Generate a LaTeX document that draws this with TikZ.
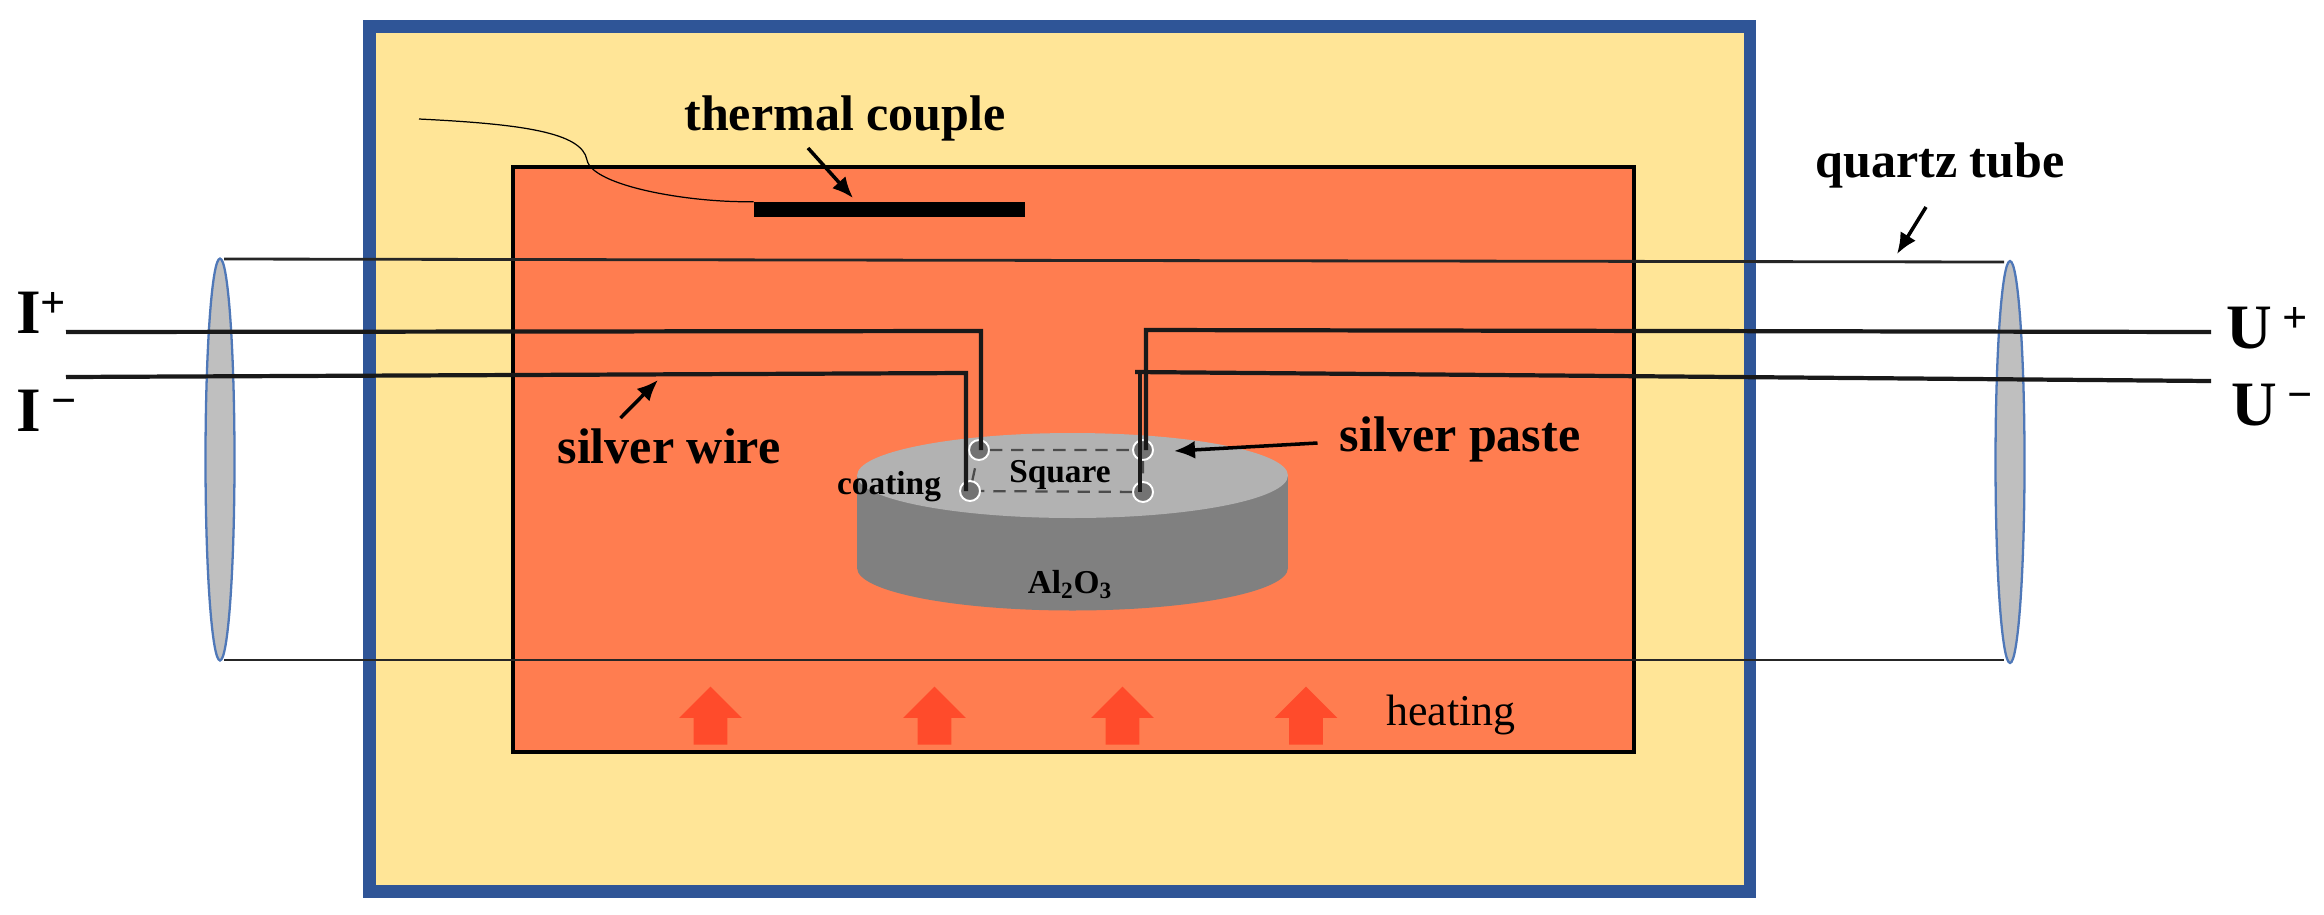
\documentclass[tikz,border=0pt]{standalone}
\usepackage{fontspec}
\setmainfont{Liberation Serif}
\usetikzlibrary{shapes.geometric,shapes.arrows,arrows.meta}

\definecolor{ovenblue}{HTML}{2F5597}
\definecolor{ovenyellow}{HTML}{FFE597}
\definecolor{hotzone}{HTML}{FF7D50}
\definecolor{heatred}{HTML}{FF4B2B}
\definecolor{tubeedge}{HTML}{4F78B8}

\begin{document}
\begin{tikzpicture}[
    x = 0.02cm,
    y = -0.02cm,
    every node/.style = {inner sep = 0pt},
    biglabel/.style = {font = \bfseries\fontsize{28.5}{30}\selectfont},
    smalllabel/.style = {font = \bfseries\fontsize{19}{21}\selectfont},
    terminal/.style = {font = \bfseries\fontsize{36}{38}\selectfont},
    tubeline/.style = {line width = 1.6pt, draw = black!85},
    silverwire/.style = {line width = 2.4pt, draw = black!90},
    pointer/.style = {line width = 2pt, -{Latex[length = 0.42cm, width = 0.36cm]}},
    tubeend/.style = {ellipse, draw = tubeedge, line width = 1.3pt, fill = black!25,
        minimum width = 0.58cm, minimum height = 8.04cm},
    contact/.style = {circle, draw = white, line width = 1.1pt, fill = black!55, minimum size = 0.4cm},
    heatarrow/.style = {single arrow, fill = heatred, rotate = 90, minimum height = 1.16cm,
        inner ysep = 0.33cm, single arrow head extend = 0.29cm, single arrow head indent = 0pt}
]
\useasboundingbox (0,0) rectangle (2324,914);

% furnace
\node [draw = ovenblue, line width = 7.1pt, fill = ovenyellow, minimum width = 27.61cm, minimum height = 17.3cm] (oven) at (1059.75,459) {};
\node [draw = black, line width = 2.6pt, fill = hotzone, minimum width = 22.42cm, minimum height = 11.7cm] (hot) at (1073.5,459.5) {};

% thermal couple
\node [fill = black, minimum width = 5.42cm, minimum height = 0.3cm] (bar) at (889.5,209.5) {};
\coordinate (tcstart) at (419,119);
\draw [line width = 0.7pt] (tcstart) .. controls (520,124) and (582,132) .. (587,160)
    .. controls (592,186) and (690,203) .. (bar.north west);
\node [biglabel] (tclabel) at (845,118) {thermal couple};
\coordinate (tctail) at (808,148);
\coordinate (tchead) at (853,198);
\draw [pointer] (tctail) -- (tchead);

% quartz tube
\node [tubeend] (tubeL) at (220,459.5) {};
\node [tubeend] (tubeR) at (2010,462) {};
\coordinate (tubeLa) at (224,259);
\coordinate (tubeLb) at (224,660);
\coordinate (tubeRa) at (2004,262);
\coordinate (tubeRb) at (2004,660);
\draw [tubeline] (tubeLa) -- (tubeRa);
\draw [tubeline] (tubeLb) -- (tubeRb);
\node [biglabel] (qtlabel) at (1940,165) {quartz tube};
\coordinate (qttail) at (1926,207);
\coordinate (qthead) at (1897,254);
\draw [pointer] (qttail) -- (qthead);

% Al2O3 disk
\node [ellipse, fill = black!50, minimum width = 8.62cm, minimum height = 1.7cm] (diskbase) at (1072.5,568) {};
\fill [black!50] (857,475.5) rectangle (1288,568);
\node [ellipse, fill = black!30, minimum width = 8.62cm, minimum height = 1.7cm] (disktop) at (1072.5,475.5) {};
\node [smalllabel] (al) at (1070,585) {Al\textsubscript{2}O\textsubscript{3}};

% contacts
\node [contact] (c1) at (979,450) {};
\node [contact] (c2) at (1143,450) {};
\node [contact] (c3) at (970,491) {};
\node [contact] (c4) at (1143,492) {};
\draw [line width = 1.3pt, draw = black!70, dash pattern = on 7pt off 5pt] (c1) -- (c2) -- (c4) -- (c3) -- (c1);
\node [smalllabel] (sq) at (1060,475) {Square};
\node [smalllabel] (coat) at (889,487) {coating};

% wires
\coordinate (Ipa) at (66,332);
\coordinate (Ipb) at (981,331);
\coordinate (Ima) at (66,377);
\coordinate (Imb) at (966,373);
\coordinate (Upa) at (2211,332);
\coordinate (Upb) at (1146,330);
\coordinate (Uma) at (2211,381);
\coordinate (Umb) at (1135,372);
\coordinate (Umc) at (1140,372);
\draw [silverwire] (Ipa) -- (Ipb) -- (Ipb |- c1);
\draw [silverwire] (Ima) -- (Imb) -- (Imb |- c3);
\draw [silverwire] (Upa) -- (Upb) -- (Upb |- c2);
\draw [silverwire] (Uma) -- (Umb);
\draw [silverwire] (Umc) -- (Umc |- c4);
\node [terminal, anchor = west] (Ip) at (16,313) {I\textsuperscript{+}};
\node [terminal, anchor = west] (Im) at (16,411) {I\,\textsuperscript{−}};
\node [terminal, anchor = east] (Up) at (2309,328) {U\,\textsuperscript{+}};
\node [terminal, anchor = east] (Um) at (2314,405) {U\,\textsuperscript{−}};

% labels on the wires
\node [biglabel] (swlabel) at (669,446) {silver wire};
\coordinate (swtail) at (620.5,418);
\coordinate (swhead) at (658,380);
\draw [pointer] (swtail) -- (swhead);
\node [biglabel] (splabel) at (1460,439) {silver paste};
\coordinate (sptail) at (1317.5,443);
\coordinate (sphead) at (1174,451);
\draw [pointer] (sptail) -- (sphead);

% heating
\foreach \name/\hx in {h1/710.5, h2/934.5, h3/1122.5, h4/1306} {
    \node [heatarrow] (\name) at (\hx,724) {};
}
\node [font = \fontsize{25}{27}\selectfont] (heat) at (1451,715) {heating};

\end{tikzpicture}
\end{document}
